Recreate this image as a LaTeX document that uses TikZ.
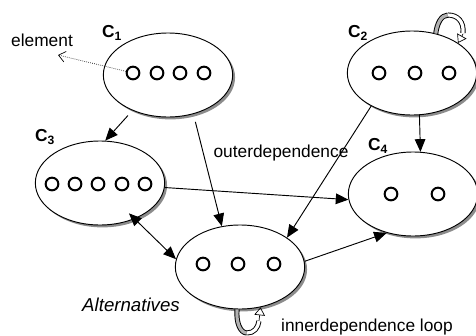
\documentclass[tikz,border=0pt]{standalone}
\usepackage{fontspec}
\setmainfont{Liberation Sans}
\usetikzlibrary{shapes.geometric,shadows,arrows.meta}
\newlength{\elsize}
\setlength{\elsize}{9.5pt}

\begin{document}
\begin{tikzpicture}[x=0.75pt,y=-0.75pt,
    every node/.style={font=\fontsize{13}{15}\selectfont},
    cluster/.style={draw,ellipse,fill=white,line width=0.7pt,inner sep=0pt,
        minimum width=97pt,minimum height=63pt,
        drop shadow={shadow xshift=1.8pt,shadow yshift=-1.8pt,fill=black!45,opacity=1}},
    elem/.style={draw,circle,line width=1.5pt,minimum size=\elsize,inner sep=0pt},
    dep/.style={-{Triangle[length=9.5pt,width=8pt]},line width=0.7pt},
    band/.style={line width=3.8pt,line cap=butt,postaction={draw=#1,line width=2.4pt}},
    openhead/.style={-{Triangle[open,length=6pt,width=8pt]},line width=0.5pt}]
    \useasboundingbox (0,0) rectangle (476,336);
    % clusters
    \node[cluster] (c1) at (168,75) {};
    \node[cluster] (c2) at (412,73) {};
    \node[cluster] (c3) at (100,183) {};
    \node[cluster] (c4) at (413,194) {};
    \node[cluster] (alt) at (240,267) {};
    % elements
    \foreach \i/\x in {1/133,2/157,3/180,4/204}
        \node[elem] (c1e\i) at (\x,73) {};
    \foreach \i/\x in {1/379,2/415,3/449}
        \node[elem] (c2e\i) at (\x,73) {};
    \foreach \i/\x in {1/52,2/75,3/98,4/122,5/145}
        \node[elem] (c3e\i) at (\x,184) {};
    \foreach \i/\x in {1/391,2/438}
        \node[elem] (c4e\i) at (\x,194) {};
    \foreach \i/\x in {1/203,2/238,3/274}
        \node[elem] (alte\i) at (\x,264) {};
    % labels
    \node (c1lab) at (112,33) {\textbf{C}\textsubscript{\textbf{1}}};
    \node (c2lab) at (358,33) {\textbf{C}\textsubscript{\textbf{2}}};
    \node (c3lab) at (45,137) {\textbf{C}\textsubscript{\textbf{3}}};
    \node (c4lab) at (378,146) {\textbf{C}\textsubscript{\textbf{4}}};
    \node (element) at (42,40) {element};
    \node (outer) at (281,153) {outerdependence};
    \node[font=\fontsize{14}{16}\selectfont\itshape] (alttext) at (131,305) {Alternatives};
    \node (inner) at (367,327) {innerdependence loop};
    % dependences
    \coordinate (elemtip) at (58,55);
    \draw[densely dotted,line width=0.5pt,-{Straight Barb[length=5pt,width=8pt]}] (c1e1) -- (elemtip);
    \draw[dep,shorten <=5pt] (c1.225) -- (c3.83);
    \draw[dep,shorten <=6pt] (c1.-57) -- (alt.114);
    \draw[dep] (c2.-80) -- (c4.80);
    \draw[dep] (c2.219) -- (alt.32);
    \draw[dep] (c3.-4) -- (c4.185);
    \draw[{Triangle[length=9.5pt,width=8pt]}-{Triangle[length=9.5pt,width=8pt]},line width=0.7pt,shorten <=-6pt] (c3.-46) -- (alt.173);
    \draw[dep] (alt.5) -- (c4.236);
    % loop on c2
    \coordinate (l2top) at (448,15);
    \coordinate (l2tip) at (458,43);
    \draw[band=black!30] (c2.59) .. controls (437,24) and (441,15) .. (l2top);
    \draw[band=white] (l2top) .. controls (458,15) and (464,22) .. (463,33);
    \draw[openhead] (463,34) -- (l2tip);
    % innerdependence loop
    \coordinate (l5bot) at (247,333);
    \draw[band=black!30] (alt.266) .. controls (236,322) and (240,333) .. (l5bot);
    \draw[band=white] (l5bot) .. controls (254,333) and (258,328) .. (259,321);
    \draw[openhead] (259,321) -- (alt.297);
\end{tikzpicture}
\end{document}
